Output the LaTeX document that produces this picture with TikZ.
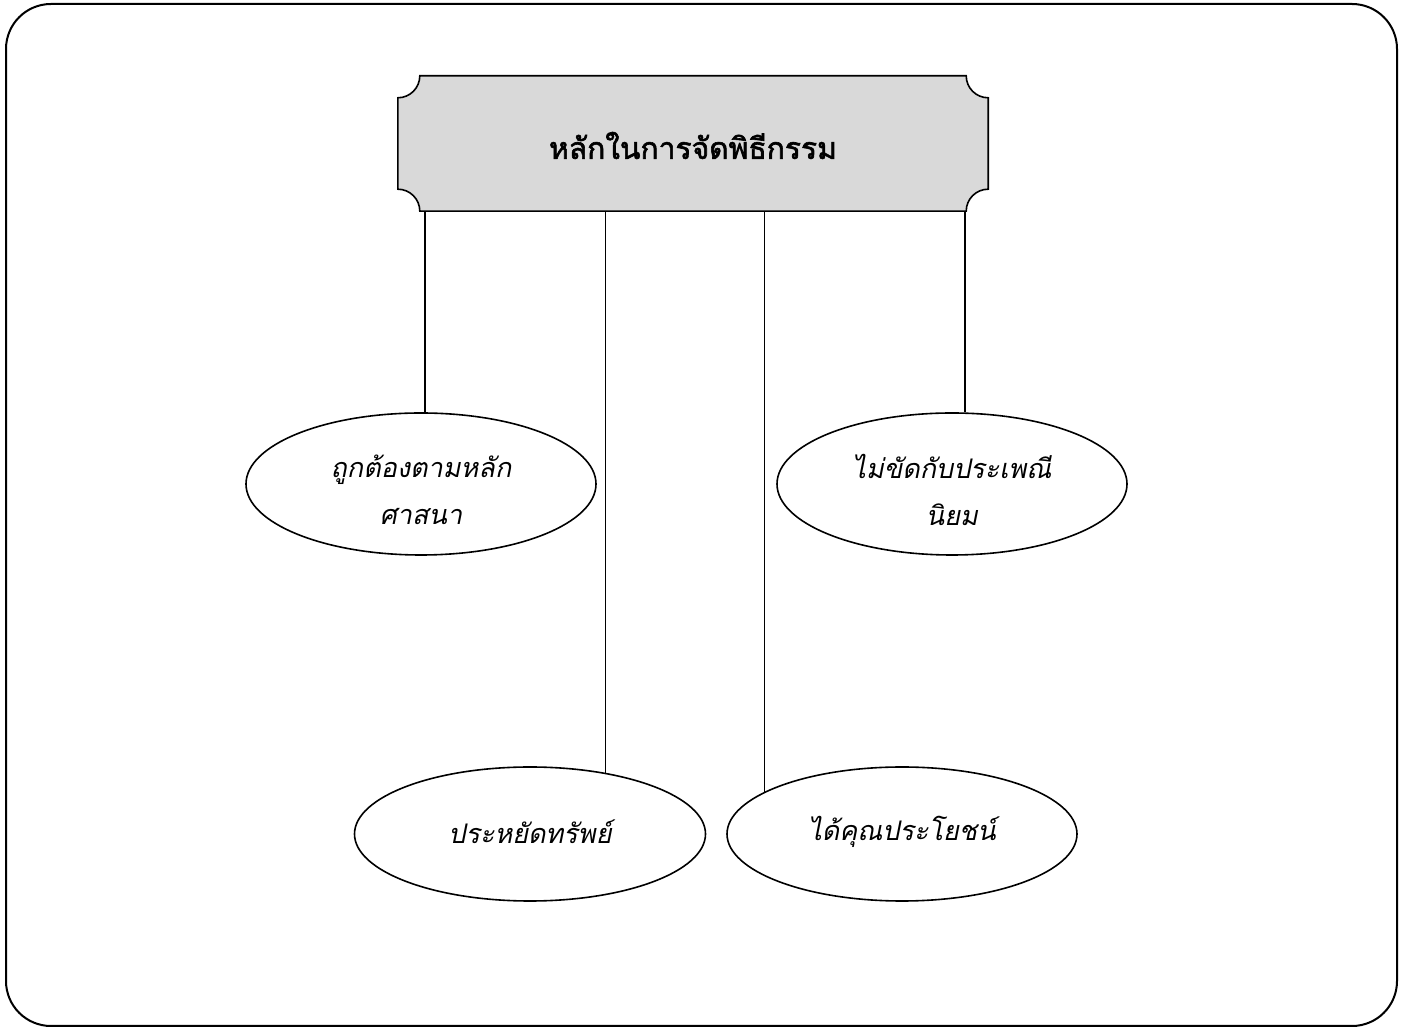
\documentclass[tikz,border=0pt]{standalone}
\usepackage{fontspec}
\newfontfamily\thaifont[Script=Thai]{Loma}
\newfontfamily\thaibold[Script=Thai,FakeBold=2]{Loma}
\newfontfamily\thaiit[Script=Thai,FakeSlant=0.2]{Loma}
\usetikzlibrary{shapes.geometric}
\definecolor{plaquegray}{HTML}{D9D9D9}
\begin{document}
\begin{tikzpicture}[x=1pt,y=1pt,
  oval/.style={ellipse,draw,line width=1.6pt,inner sep=0pt,align=center,
    font=\thaiit\fontsize{27}{47}\selectfont},
  conn/.style={line width=1.5pt}]
\useasboundingbox (0,0) rectangle (1406,1028);
% outer frame
\draw[line width=2pt,rounded corners=45pt] (6,2) rectangle (1397,1024);
% title plaque
\node[minimum width=590pt,minimum height=135pt,inner sep=0pt] (title) at (693,884.5) {};
\path[fill=plaquegray,draw=black,line width=1.6pt]
  ([xshift=22pt]title.north west) -- ([xshift=-22pt]title.north east)
  arc(180:270:22pt) -- ([yshift=22pt]title.south east)
  arc(90:180:22pt) -- ([xshift=22pt]title.south west)
  arc(0:90:22pt) -- ([yshift=-22pt]title.north west)
  arc(270:360:22pt) -- cycle;
\node[font=\thaibold\fontsize{30}{32}\selectfont] (titletext) at ([yshift=-2pt]title.center) {หลักในการจัดพิธีกรรม};
% ellipses
\node[oval,minimum width=350pt,minimum height=142pt] (e1) at (421,544) {};
\node[oval,minimum width=350pt,minimum height=142pt] (e2) at (952,544) {};
\node[oval,minimum width=351pt,minimum height=134pt] (e3) at (530,194) {};
\node[oval,minimum width=350pt,minimum height=134pt] (e4) at (902,194) {};
\node[font=\thaiit\fontsize{27}{47}\selectfont,align=center] (t1) at ([yshift=-6pt]e1.center) {ถูกต้องตามหลัก\\ศาสนา};
\node[font=\thaiit\fontsize{27}{47}\selectfont,align=center] (t2) at ([yshift=-6pt]e2.center) {ไม่ขัดกับประเพณี\\นิยม};
\node[font=\thaiit\fontsize{27}{47}\selectfont] (t3) at ([yshift=2pt]e3.center) {ประหยัดทรัพย์};
\node[font=\thaiit\fontsize{27}{47}\selectfont] (t4) at ([yshift=2pt]e4.center) {ได้คุณประโยชน์};
% connectors
\draw[conn] (e1.87) -- (e1.87 |- title.south);
\draw[conn] (e2.north -| 965,0) -- (965,0 |- title.south);
\draw[conn] (e3.39) -- (e3.39 |- title.south);
\draw[conn] (e4.163) -- (e4.163 |- title.south);
\end{tikzpicture}
\end{document}
